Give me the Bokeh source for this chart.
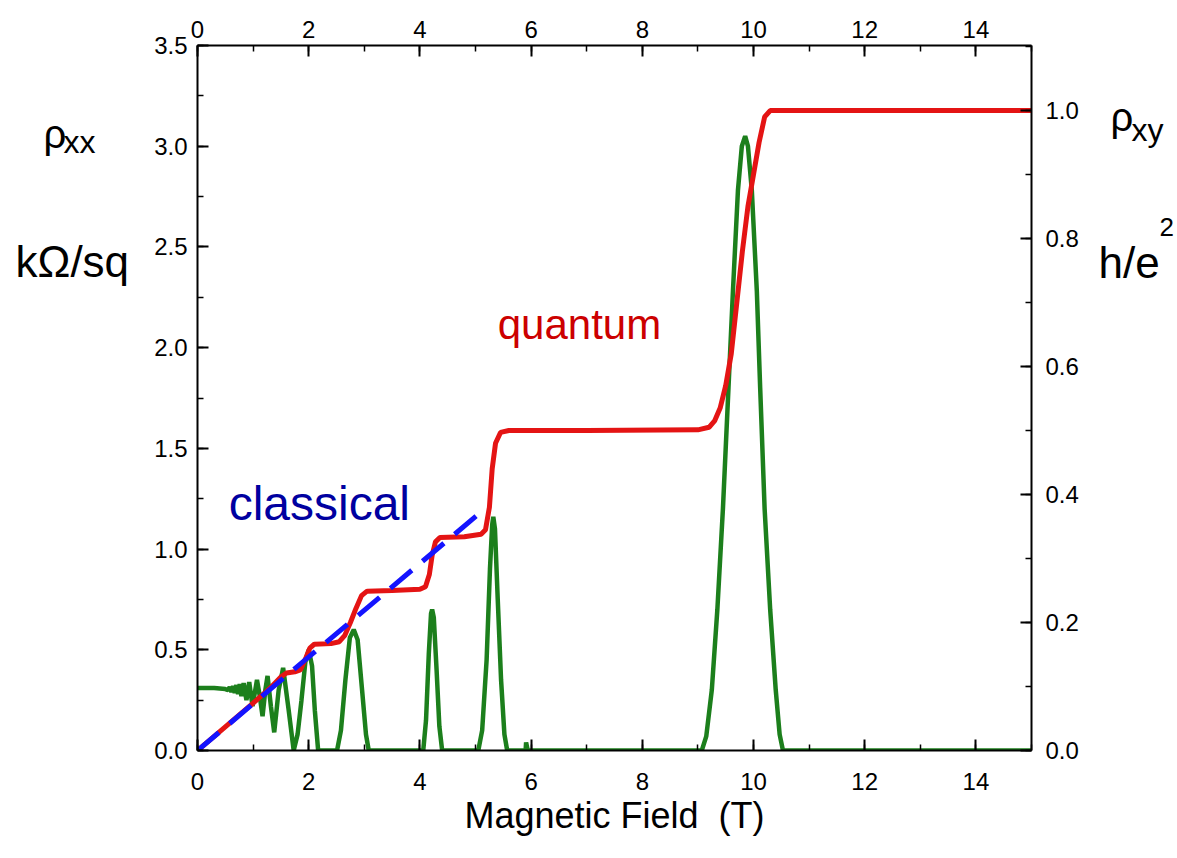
from bokeh.plotting import figure
from bokeh.layouts import row
from bokeh.models import LinearAxis, Range1d, SingleIntervalTicker, PrintfTickFormatter, Label
from bokeh.core.properties import value
from bokeh.embed import file_html
from bokeh.resources import INLINE

# ---- data ----
# Hall resistance rho_xy in units of h/e^2 (right axis)
field_xy = [0.0, 0.5, 1.0, 1.3, 1.5, 1.6, 1.75, 1.85, 1.95, 2.02, 2.1, 2.4, 2.55, 2.65, 2.75,
            2.85, 2.95, 3.05, 3.5, 4.0, 4.1, 4.17, 4.22, 4.28, 4.36, 4.8, 5.1, 5.18, 5.25,
            5.3, 5.36, 5.45, 5.6, 7.0, 9.0, 9.2, 9.3, 9.4, 9.5, 9.6, 9.7, 9.8, 9.9, 10.0,
            10.1, 10.2, 10.3, 15.0]
rho_xy = [0.0, 0.037, 0.074, 0.097, 0.115, 0.121, 0.123, 0.126, 0.145, 0.160, 0.166, 0.167,
          0.170, 0.180, 0.200, 0.222, 0.242, 0.249, 0.250, 0.252, 0.256, 0.275, 0.305, 0.326,
          0.333, 0.334, 0.338, 0.345, 0.380, 0.440, 0.480, 0.497, 0.500, 0.500, 0.501, 0.505,
          0.515, 0.535, 0.570, 0.620, 0.700, 0.780, 0.850, 0.900, 0.950, 0.990, 1.000, 1.000]

# Longitudinal resistance rho_xx in kOhm/sq (left axis)
field_xx = [0.0, 0.3, 0.5, 0.55, 0.58, 0.61, 0.64, 0.67, 0.70, 0.73, 0.76, 0.79, 0.83, 0.88,
            0.93, 0.99, 1.07, 1.12, 1.17, 1.22, 1.26, 1.32, 1.38, 1.46, 1.54, 1.64, 1.73,
            1.80, 1.87, 1.94, 2.0, 2.06, 2.11, 2.17, 2.51, 2.58, 2.66, 2.74, 2.81, 2.88, 2.96,
            3.03, 3.08, 4.06, 4.11, 4.16, 4.20, 4.22, 4.25, 4.30, 4.35, 4.40, 5.05, 5.12,
            5.20, 5.26, 5.30, 5.32, 5.35, 5.40, 5.46, 5.52, 5.57, 5.86, 5.89, 5.91, 5.94,
            9.07, 9.15, 9.25, 9.35, 9.45, 9.55, 9.63, 9.72, 9.79, 9.85, 9.90, 9.97, 10.06,
            10.12, 10.20, 10.30, 10.40, 10.47, 10.53, 15.0]
rho_xx = [0.31, 0.31, 0.305, 0.30, 0.315, 0.29, 0.32, 0.285, 0.325, 0.28, 0.33, 0.27, 0.335,
          0.25, 0.34, 0.22, 0.35, 0.27, 0.17, 0.30, 0.37, 0.22, 0.09, 0.30, 0.41, 0.20, 0.0,
          0.08, 0.25, 0.44, 0.50, 0.42, 0.20, 0.0, 0.0, 0.10, 0.35, 0.56, 0.60, 0.55, 0.30,
          0.08, 0.0, 0.0, 0.15, 0.48, 0.68, 0.70, 0.66, 0.40, 0.12, 0.0, 0.0, 0.10, 0.45,
          0.90, 1.12, 1.16, 1.10, 0.75, 0.35, 0.08, 0.0, 0.0, -0.05, 0.04, 0.0, 0.0, 0.07,
          0.30, 0.70, 1.20, 1.80, 2.28, 2.78, 3.00, 3.05, 3.00, 2.78, 2.28, 1.80, 1.20, 0.70,
          0.30, 0.08, 0.0, 0.0]

# classical Hall line (left axis units)
classical_field = [0.0, 5.07]
classical_rho = [0.0, 1.177]

RED = "#e41414"
GREEN = "#1c7f1c"
BLUE = "#1414ff"
FONT = "Liberation Sans"
H = 850

p = figure(width=950, height=H, x_range=Range1d(0, 15), y_range=Range1d(0, 3.5),
           output_backend="svg", toolbar_location=None,
           min_border_left=62, min_border_right=54, min_border_top=45, min_border_bottom=100)
p.extra_y_ranges = {"right": Range1d(0, 1.1016)}
p.xgrid.visible = False
p.ygrid.visible = False
p.outline_line_color = None


def style(ax, standoff):
    ax.axis_line_color = "black"
    ax.axis_line_width = 2
    ax.major_tick_line_color = "black"
    ax.major_tick_line_width = 2
    ax.minor_tick_line_color = "black"
    ax.minor_tick_line_width = 1.5
    ax.major_tick_in = 11
    ax.major_tick_out = 0
    ax.minor_tick_in = 6
    ax.minor_tick_out = 0
    ax.major_label_text_font = FONT
    ax.major_label_text_font_size = "24px"
    ax.major_label_text_color = "black"
    ax.major_label_standoff = standoff


xb = p.xaxis[0]
xb.ticker = SingleIntervalTicker(interval=2, num_minor_ticks=2)
style(xb, 22)
xb.axis_label = "Magnetic Field\u00a0 (T)"
xb.axis_label_text_font = FONT
xb.axis_label_text_font_size = "36px"
xb.axis_label_text_font_style = "normal"
xb.axis_label_text_color = "black"
xb.axis_label_standoff = 2

yl = p.yaxis[0]
yl.ticker = SingleIntervalTicker(interval=0.5, num_minor_ticks=2)
yl.formatter = PrintfTickFormatter(format="%.1f")
style(yl, 10)

xt = LinearAxis(ticker=SingleIntervalTicker(interval=2, num_minor_ticks=2))
style(xt, 8)
p.add_layout(xt, "above")

yr = LinearAxis(y_range_name="right", ticker=SingleIntervalTicker(interval=0.2, num_minor_ticks=2),
                formatter=PrintfTickFormatter(format="%.1f"))
style(yr, 14)
p.add_layout(yr, "right")

p.line(field_xx, rho_xx, line_color=GREEN, line_width=4.5)
p.line(field_xy, rho_xy, y_range_name="right", line_color=RED, line_width=5)
p.line(classical_field, classical_rho, line_color=BLUE, line_width=5, line_dash="28 14")

p.add_layout(Label(x=0.56, y=1.226, text="classical", text_font=FONT, text_font_size="48px",
                   text_color="#0000a0", text_baseline="alphabetic"))
p.add_layout(Label(x=5.40, y=2.115, text="quantum", text_font=FONT, text_font_size="42px",
                   text_color="#cc0000", text_baseline="alphabetic"))


def side(width):
    f = figure(width=width, height=H, x_range=Range1d(0, width), y_range=Range1d(H, 0),
               output_backend="svg", toolbar_location=None,
               x_axis_location=None, y_axis_location=None,
               min_border=0, min_border_left=0, min_border_right=0,
               min_border_top=0, min_border_bottom=0)
    f.xgrid.visible = False
    f.ygrid.visible = False
    f.outline_line_color = None
    return f


def txt(f, x, y, s, size):
    f.text(x=[x], y=[y], text=[s], text_font=value(FONT), text_font_size=value(size),
           text_color="black", text_baseline="alphabetic", text_align="left")


left = side(135)
txt(left, 43, 107, "ρ", "40px")
txt(left, 63, 116, "xx", "32px")
txt(left, 15, 261, "kΩ/sq", "44px")

right = side(90)
txt(right, 25, 86, "ρ", "40px")
txt(right, 46, 102, "xy", "32px")
txt(right, 13, 262, "h/e", "44px")
txt(right, 74, 219, "2", "26px")

layout = row(left, p, right)
open("out.html", "w").write(file_html(layout, INLINE))
